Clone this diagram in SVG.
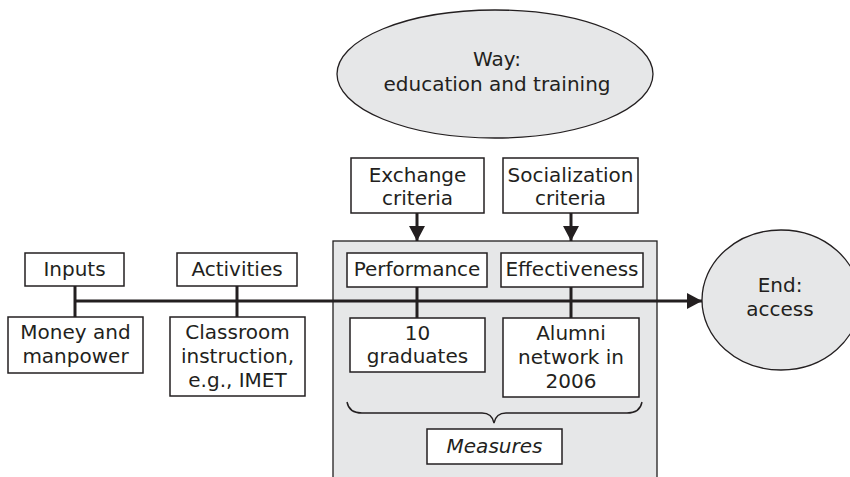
<svg xmlns="http://www.w3.org/2000/svg" width="850" height="477" viewBox="0 0 850 477">
<defs>
<style>
.box{fill:#fff;stroke:#231f20;stroke-width:1.5}
.oval{fill:#e6e7e8;stroke:#231f20;stroke-width:1.3}
.panel{fill:#e6e7e8;stroke:#231f20;stroke-width:1.3}
.ln{fill:none;stroke:#231f20;stroke-width:3}
.brace{fill:none;stroke:#231f20;stroke-width:1.4}
text{font-family:"DejaVu Sans","Liberation Sans",sans-serif;font-size:20px;fill:#231f20;text-anchor:middle}
.it{font-style:italic}
</style>
<marker id="ah" markerUnits="userSpaceOnUse" markerWidth="16" markerHeight="16" refX="15" refY="8" orient="auto">
<path d="M0,0 L15,8 L0,16 Z" fill="#231f20"/>
</marker>
</defs>
<rect width="850" height="477" fill="#fff"/>

<g id="way">
<ellipse class="oval" cx="495" cy="74" rx="158" ry="64"/>
<text x="497" y="66">Way:</text>
<text x="497" y="91">education and training</text>
</g>

<g id="end">
<ellipse class="oval" cx="781" cy="300" rx="79" ry="70"/>
<text x="780" y="292">End:</text>
<text x="780" y="316">access</text>
</g>

<g id="measures-panel">
<rect class="panel" x="333" y="241" width="324" height="245"/>
</g>

<g id="connectors">
<line class="ln" x1="75" y1="286" x2="75" y2="317"/>
<line class="ln" x1="237" y1="286" x2="237" y2="317"/>
<line class="ln" x1="417" y1="287" x2="417" y2="318"/>
<line class="ln" x1="571" y1="287" x2="571" y2="318"/>
<line class="ln" x1="75" y1="301" x2="702" y2="301" marker-end="url(#ah)"/>
<line class="ln" x1="417" y1="213" x2="417" y2="241" marker-end="url(#ah)"/>
<line class="ln" x1="571" y1="213" x2="571" y2="241" marker-end="url(#ah)"/>
<path class="brace" d="M347,402 Q349,413 362,413 L482,413 Q492,413 494,423 Q496,413 506,413 L627,413 Q640,413 642,402"/>
</g>

<g id="inputs">
<rect class="box" x="25" y="253" width="99" height="33"/>
<text x="74.5" y="276">Inputs</text>
</g>

<g id="activities">
<rect class="box" x="177" y="253" width="120" height="33"/>
<text x="237" y="276">Activities</text>
</g>

<g id="money">
<rect class="box" x="8" y="317" width="135" height="56"/>
<text x="75.5" y="339">Money and</text>
<text x="75.5" y="363">manpower</text>
</g>

<g id="classroom">
<rect class="box" x="170" y="317" width="135" height="79"/>
<text x="237.5" y="339">Classroom</text>
<text x="237.5" y="363">instruction,</text>
<text x="237.5" y="387">e.g., IMET</text>
</g>

<g id="exchange">
<rect class="box" x="351" y="158" width="133" height="55"/>
<text x="417.5" y="182">Exchange</text>
<text x="417.5" y="205">criteria</text>
</g>

<g id="socialization">
<rect class="box" x="503" y="158" width="135" height="55"/>
<text x="570.5" y="182">Socialization</text>
<text x="570.5" y="205">criteria</text>
</g>

<g id="performance">
<rect class="box" x="347" y="253" width="140" height="34"/>
<text x="417" y="276">Performance</text>
</g>

<g id="effectiveness">
<rect class="box" x="501" y="253" width="142" height="34"/>
<text x="572" y="276">Effectiveness</text>
</g>

<g id="graduates">
<rect class="box" x="350" y="318" width="135" height="54"/>
<text x="417.5" y="340">10</text>
<text x="417.5" y="363">graduates</text>
</g>

<g id="alumni">
<rect class="box" x="503" y="318" width="136" height="79"/>
<text x="571" y="340">Alumni</text>
<text x="571" y="364">network in</text>
<text x="571" y="388">2006</text>
</g>

<g id="measures">
<rect class="box" x="427" y="429" width="135" height="35"/>
<text class="it" x="494.5" y="453">Measures</text>
</g>
</svg>
